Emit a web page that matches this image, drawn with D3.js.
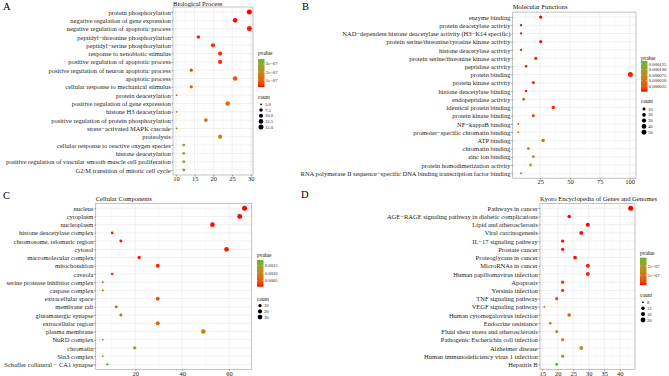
<!DOCTYPE html>
<html>
<head>
<meta charset="utf-8">
<script src="https://cdn.jsdelivr.net/npm/d3@7"></script>
<style>
  body { margin: 0; background: #fff; }
  svg { display: block; font-family: "Liberation Serif", "DejaVu Serif", serif; }
</style>
</head>
<body>
<script>
const W = 669, H = 376;

// --- A: Biological Process ---
const termsA = ["protein phosphorylation", "negative regulation of gene expression", "negative regulation of apoptotic process",
  "peptidyl−threonine phosphorylation", "peptidyl−serine phosphorylation", "response to xenobiotic stimulus",
  "positive regulation of apoptotic process", "positive regulation of neuron apoptotic process", "apoptotic process",
  "cellular response to mechanical stimulus", "protein deacetylation", "positive regulation of gene expression",
  "histone H3 deacetylation", "positive regulation of protein phosphorylation", "stress−activated MAPK cascade",
  "proteolysis", "cellular response to reactive oxygen species", "histone deacetylation",
  "positive regulation of vascular smooth muscle cell proliferation", "G2/M transition of mitotic cell cycle"];
const ratioA = [29.6, 25.8, 29.6, 16.0, 19.9, 21.8, 21.8, 14.1, 25.8, 14.1, 10.2, 23.8, 10.2, 18.0, 10.2, 21.8, 12.1, 12.1, 12.1, 12.1];
const countA = [15, 13, 15, 8, 10, 11, 11, 7, 13, 7, 5, 12, 5, 9, 5, 11, 6, 6, 6, 6];
const pvalA = [1.25e-8, 1.5e-8, 2e-8, 2.5e-8, 3e-8, 3.5e-8, 4e-8, 5e-8, 8e-8, 9e-8,
  1.1e-7, 1.2e-7, 1.2e-7, 1.3e-7, 1.3e-7, 2.2e-7, 2.9e-7, 2.9e-7, 3.0e-7, 3.6e-7];
const ticksA = [10, 15, 20, 25, 30];
const pBreaksA = [1e-7, 2e-7, 3e-7];
const pLabelsA = ["1e−07", "2e−07", "3e−07"];
const sizeBreaksA = [5, 7.5, 10, 12.5, 15];
const sizeLabelsA = ["5.0", "7.5", "10.0", "12.5", "15.0"];

// --- B: Molecular Functions ---
const termsB = ["enzyme binding", "protein deacetylase activity", "NAD−dependent histone deacetylase activity (H3−K14 specific)",
  "protein serine/threonine/tyrosine kinase activity", "histone deacetylase activity", "protein serine/threonine kinase activity",
  "peptidase activity", "protein binding", "protein kinase activity", "histone deacetylase binding", "endopeptidase activity",
  "identical protein binding", "protein kinase binding", "NF−kappaB binding", "promoter−specific chromatin binding",
  "ATP binding", "chromatin binding", "zinc ion binding", "protein homodimerization activity",
  "RNA polymerase II sequence−specific DNA binding transcription factor binding"];
const ratioB = [25.5, 9, 9, 25.5, 9, 21.3, 13.2, 100.6, 19.3, 13.2, 11.2, 36, 19.3, 6.7, 6.7, 27.5, 15.1, 19.3, 17, 9];
const countB = [13, 5, 5, 13, 5, 11, 7, 51, 10, 7, 6, 18, 10, 4, 4, 14, 8, 10, 9, 5];
const pvalB = [5e-7, 1e-6, 1.5e-6, 2e-6, 2.5e-6, 3e-6, 4e-6, 4.5e-6, 5e-6, 6e-6,
  7e-6, 8e-6, 9e-6, 1.2e-5, 2.8e-5, 3.5e-5, 4.5e-5, 9.5e-5, 1.05e-4, 1.38e-4];
const ticksB = [25, 50, 75, 100];
const pBreaksB = [0.000025, 0.00005, 0.000075, 0.0001, 0.000125];
const pLabelsB = ["0.000025", "0.000050", "0.000075", "0.000100", "0.000125"];
const sizeBreaksB = [10, 20, 30, 40, 50];
const sizeLabelsB = ["10", "20", "30", "40", "50"];

// --- C: Cellular Components ---
const termsC = ["nucleus", "cytoplasm", "nucleoplasm", "histone deacetylase complex", "chromosome, telomeric region",
  "cytosol", "macromolecular complex", "mitochondrion", "caveola", "serine protease inhibitor complex",
  "caspase complex", "extracellular space", "membrane raft", "glutamatergic synapse", "extracellular region",
  "plasma membrane", "NuRD complex", "chromatin", "Sin3 complex", "Schaffer collateral − CA1 synapse"];
const ratioC = [66.6, 64.5, 52.9, 10.2, 13.9, 58.9, 21.7, 29.6, 10.2, 6.2, 6.2, 29.6, 11.9, 13.9, 29.6, 49, 6.2, 19.8, 6.2, 8.1];
const countC = [33, 32, 26, 5, 7, 29, 11, 15, 5, 3, 3, 15, 6, 7, 15, 24, 3, 10, 3, 4];
const pvalC = [1.0e-4, 1.05e-4, 1.1e-4, 1.2e-4, 1.3e-4, 1.4e-4, 1.5e-4, 1.6e-4, 1.8e-4, 2.0e-4,
  2.2e-4, 3.5e-4, 4.0e-4, 5.5e-4, 6e-4, 9e-4, 1.0e-3, 1.35e-3, 1.4e-3, 1.87e-3];
const ticksC = [20, 40, 60];
const pBreaksC = [0.0005, 0.001, 0.0015];
const pLabelsC = ["0.0005", "0.0010", "0.0015"];
const sizeBreaksC = [10, 20, 30];
const sizeLabelsC = ["10", "20", "30"];

// --- D: KEGG ---
const termsD = ["Pathways in cancer", "AGE−RAGE signaling pathway in diabetic complications", "Lipid and atherosclerosis",
  "Viral carcinogenesis", "IL−17 signaling pathway", "Prostate cancer", "Proteoglycans in cancer", "MicroRNAs in cancer",
  "Human papillomavirus infection", "Apoptosis", "Yersinia infection", "TNF signaling pathway", "VEGF signaling pathway",
  "Human cytomegalovirus infection", "Endocrine resistance", "Fluid shear stress and atherosclerosis",
  "Pathogenic Escherichia coli infection", "Alzheimer disease", "Human immunodeficiency virus 1 infection", "Hepatitis B"];
const ratioD = [43.5, 23.7, 29.7, 27.6, 21.6, 21.6, 25.6, 29.7, 29.7, 21.6, 21.6, 19.7, 15.7, 23.7, 17.6, 19.7, 21.6, 27.6, 21.6, 19.7];
const countD = [22, 12, 15, 14, 11, 11, 13, 15, 15, 11, 11, 10, 8, 12, 9, 10, 11, 14, 11, 10];
const pvalD = [1e-12, 1e-10, 5e-10, 1e-9, 2e-9, 3e-9, 5e-9, 8e-9, 1e-8, 1.5e-8,
  2e-8, 3e-8, 5e-8, 6e-8, 1.0e-7, 1.1e-7, 1.5e-7, 1.9e-7, 2.5e-7, 2.86e-7];
const ticksD = [15, 20, 25, 30, 35, 40];
const pBreaksD = [1e-7, 2e-7];
const pLabelsD = ["1e−07", "2e−07"];
const sizeBreaksD = [8, 12, 16, 20];
const sizeLabelsD = ["8", "12", "16", "20"];

const LOW = "#ff0000", HIGH = "#5fb83a";
const R_MIN = 0.9, R_MAX = 2.5;
const LABEL_SIZE = 6.5;

const panels = [
  { tag: "A", tagX: 3, tagY: 10, title: "Biological Process", titleY: 5.6, terms: termsA, x: ratioA, count: countA, p: pvalA,
    ticks: ticksA, pBreaks: pBreaksA, pLabels: pLabelsA, sBreaks: sizeBreaksA, sLabels: sizeLabelsA,
    l: 173, r: 253, t: 7, b: 175, lx: 258, pTitleY: 55, barTop: 59, barBot: 87, cTitleY: 98.5, keyY: 104.3, keyStep: 5.7 },
  { tag: "B", tagX: 302, tagY: 10, title: "Molecular Functions", titleY: 8.6, terms: termsB, x: ratioB, count: countB, p: pvalB,
    ticks: ticksB, pBreaks: pBreaksB, pLabels: pLabelsB, sBreaks: sizeBreaksB, sLabels: sizeLabelsB,
    l: 512.7, r: 636, t: 12.1, b: 178.2, lx: 641, pTitleY: 60, barTop: 61, barBot: 91.7, cTitleY: 103, keyY: 109, keyStep: 5.8 },
  { tag: "C", tagX: 3, tagY: 199, title: "Cellular Components", titleY: 200.6, terms: termsC, x: ratioC, count: countC, p: pvalC,
    ticks: ticksC, pBreaks: pBreaksC, pLabels: pLabelsC, sBreaks: sizeBreaksC, sLabels: sizeLabelsC,
    l: 95.7, r: 251.7, t: 203.3, b: 369.3, lx: 257, pTitleY: 257.3, barTop: 260, barBot: 286.7, cTitleY: 300.5, keyY: 305.7, keyStep: 5.7 },
  { tag: "D", tagX: 301, tagY: 198, title: "Kyoto Encyclopedia of Genes and Genomes", titleY: 200.6, terms: termsD, x: ratioD, count: countD, p: pvalD,
    ticks: ticksD, pBreaks: pBreaksD, pLabels: pLabelsD, sBreaks: sizeBreaksD, sLabels: sizeLabelsD,
    l: 540, r: 635, t: 203.3, b: 369.3, lx: 640, pTitleY: 255, barTop: 257.7, barBot: 285, cTitleY: 296.5, keyY: 302.3, keyStep: 5.9 }
];

const svg = d3.select("body").append("svg").attr("width", W).attr("height", H);
const defs = svg.append("defs");

panels.forEach((P, pi) => {
  const g = svg.append("g");

  // scales (ggplot style 5% expansion on x, 0.6 step on discrete y)
  const [xmin, xmax] = d3.extent(P.x);
  const pad = (xmax - xmin) * 0.05;
  const x = d3.scaleLinear().domain([xmin - pad, xmax + pad]).range([P.l, P.r]);
  const y = d3.scalePoint().domain(P.terms).range([P.t, P.b]).padding(0.6);

  const pExt = d3.extent(P.p);
  const color = d3.scaleLinear().domain(pExt).range([LOW, HIGH]).interpolate(d3.interpolateLab);

  const cExt = d3.extent(P.count);
  const t01 = d3.scaleLinear().domain(cExt).range([0, 1]).clamp(true);
  const rad = v => R_MIN + (R_MAX - R_MIN) * Math.sqrt(t01(v));

  // panel letter
  g.append("text").attr("x", P.tagX).attr("y", P.tagY)
    .attr("font-size", 10.5).attr("fill", "#000").text(P.tag);

  // title
  g.append("text").attr("x", P.l).attr("y", P.titleY)
    .attr("font-size", 6.6).attr("fill", "#111").text(P.title);

  // grid
  const minor = d3.range(P.ticks.length + 1).map(i => {
    const step = P.ticks[1] - P.ticks[0];
    return P.ticks[0] - step / 2 + i * step;
  }).filter(v => v > x.domain()[0] && v < x.domain()[1]);

  g.append("g").selectAll("line").data(minor).join("line")
    .attr("x1", d => x(d)).attr("x2", d => x(d)).attr("y1", P.t).attr("y2", P.b)
    .attr("stroke", "#f0f0f0").attr("stroke-width", 0.4);
  g.append("g").selectAll("line").data(P.ticks).join("line")
    .attr("x1", d => x(d)).attr("x2", d => x(d)).attr("y1", P.t).attr("y2", P.b)
    .attr("stroke", "#e6e6e6").attr("stroke-width", 0.6);
  g.append("g").selectAll("line").data(P.terms).join("line")
    .attr("x1", P.l).attr("x2", P.r).attr("y1", d => y(d)).attr("y2", d => y(d))
    .attr("stroke", "#e6e6e6").attr("stroke-width", 0.6);

  // points
  g.append("g").selectAll("circle").data(P.terms).join("circle")
    .attr("cx", (d, i) => x(P.x[i]))
    .attr("cy", d => y(d))
    .attr("r", (d, i) => rad(P.count[i]))
    .attr("fill", (d, i) => color(P.p[i]));

  // border
  g.append("rect").attr("x", P.l).attr("y", P.t)
    .attr("width", P.r - P.l).attr("height", P.b - P.t)
    .attr("fill", "none").attr("stroke", "#a8a8a8").attr("stroke-width", 0.7);

  // axes
  const xa = g.append("g").attr("transform", `translate(0,${P.b})`)
    .call(d3.axisBottom(x).tickValues(P.ticks).tickSize(1.5).tickPadding(0.3).tickFormat(d3.format("d")));
  const ya = g.append("g").attr("transform", `translate(${P.l},0)`)
    .call(d3.axisLeft(y).tickSize(1.5).tickPadding(0.8));
  [xa, ya].forEach(a => {
    a.select(".domain").remove();
    a.selectAll(".tick line").attr("stroke", "#444").attr("stroke-width", 0.5);
    a.selectAll("text").attr("font-family", "Liberation Serif").attr("font-size", LABEL_SIZE).attr("fill", "#1a1a1a");
  });
  xa.selectAll("text").attr("dy", "0.68em");

  // colour legend
  const gid = "grad" + pi;
  const grad = defs.append("linearGradient").attr("id", gid)
    .attr("x1", 0).attr("x2", 0).attr("y1", 1).attr("y2", 0);
  d3.range(0, 1.0001, 0.1).forEach(t => {
    grad.append("stop").attr("offset", t)
      .attr("stop-color", color(pExt[0] + t * (pExt[1] - pExt[0])));
  });
  const lg = g.append("g");
  const barW = 6.5;
  lg.append("text").attr("x", P.lx).attr("y", P.pTitleY)
    .attr("font-size", 5.4).attr("fill", "#111").text("pvalue");
  lg.append("rect").attr("x", P.lx).attr("y", P.barTop)
    .attr("width", barW).attr("height", P.barBot - P.barTop)
    .attr("fill", `url(#${gid})`);
  const py = d3.scaleLinear().domain(pExt).range([P.barBot, P.barTop]);
  P.pBreaks.forEach((v, i) => {
    lg.append("line").attr("x1", P.lx).attr("x2", P.lx + 1.3).attr("y1", py(v)).attr("y2", py(v))
      .attr("stroke", "#fff").attr("stroke-width", 0.4);
    lg.append("line").attr("x1", P.lx + barW - 1.3).attr("x2", P.lx + barW).attr("y1", py(v)).attr("y2", py(v))
      .attr("stroke", "#fff").attr("stroke-width", 0.4);
    lg.append("text").attr("x", P.lx + barW + 1.3).attr("y", py(v)).attr("dy", "0.35em")
      .attr("font-size", 4.7).attr("fill", "#222").text(P.pLabels[i]);
  });

  // size legend
  lg.append("text").attr("x", P.lx).attr("y", P.cTitleY)
    .attr("font-size", 5.4).attr("fill", "#111").text("count");
  P.sBreaks.forEach((v, i) => {
    const ky = P.keyY + i * P.keyStep;
    lg.append("circle").attr("cx", P.lx + 3).attr("cy", ky).attr("r", rad(v)).attr("fill", "#000");
    lg.append("text").attr("x", P.lx + 7).attr("y", ky).attr("dy", "0.35em")
      .attr("font-size", 4.7).attr("fill", "#222").text(P.sLabels[i]);
  });
});
</script>
</body>
</html>
